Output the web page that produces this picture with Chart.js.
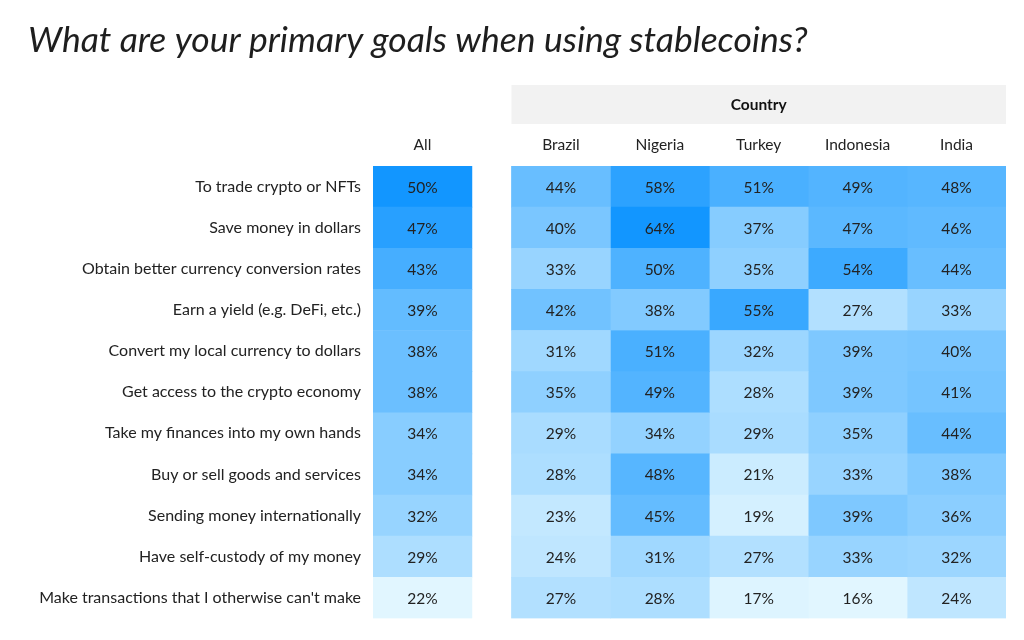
<!DOCTYPE html>
<html><head><meta charset="utf-8">
<script src="https://cdn.jsdelivr.net/npm/chart.js@4/dist/chart.umd.min.js"></script>
<style>html,body{margin:0;padding:0;background:#fff}#wrap{width:1024px;height:640px}</style>
</head><body><div id="wrap"><canvas id="c" width="1024" height="640"></canvas></div>
<script>
const goals = [
  'To trade crypto or NFTs',
  'Save money in dollars',
  'Obtain better currency conversion rates',
  'Earn a yield (e.g. DeFi, etc.)',
  'Convert my local currency to dollars',
  'Get access to the crypto economy',
  'Take my finances into my own hands',
  'Buy or sell goods and services',
  'Sending money internationally',
  'Have self-custody of my money',
  "Make transactions that I otherwise can't make"
];
const columnNames = ['All', 'Brazil', 'Nigeria', 'Turkey', 'Indonesia', 'India'];
const groupTitle = 'Country';
const allValues       = [50, 47, 43, 39, 38, 38, 34, 34, 32, 29, 22];
const brazilValues    = [44, 40, 33, 42, 31, 35, 29, 28, 23, 24, 27];
const nigeriaValues   = [58, 64, 50, 38, 51, 49, 34, 48, 45, 31, 28];
const turkeyValues    = [51, 37, 35, 55, 32, 28, 29, 21, 19, 27, 17];
const indonesiaValues = [49, 47, 54, 27, 39, 39, 35, 33, 39, 33, 16];
const indiaValues     = [48, 46, 44, 33, 40, 41, 44, 38, 36, 32, 24];

const seriesValues = [allValues, brazilValues, nigeriaValues, turkeyValues, indonesiaValues, indiaValues];
const GAP = 0.4; // gap between "All" column and the country block (in column units)
const LOW = [225, 246, 255], HIGH = [18, 150, 255];

function scaleColor(v, min, max) {
  const t = (v - min) / (max - min);
  const c = LOW.map((l, i) => Math.round(l + (HIGH[i] - l) * t));
  return `rgb(${c[0]},${c[1]},${c[2]})`;
}
const countryAll = seriesValues.slice(1).flat();
const cMin = Math.min(...countryAll), cMax = Math.max(...countryAll);
const aMin = Math.min(...allValues), aMax = Math.max(...allValues);

const colStart = i => i === 0 ? 0 : 1 + GAP + (i - 1);

const datasets = seriesValues.map((vals, i) => ({
  label: columnNames[i],
  values: vals,
  data: vals.map(() => [colStart(i), colStart(i) + 1]),
  backgroundColor: vals.map(v => i === 0 ? scaleColor(v, aMin, aMax) : scaleColor(v, cMin, cMax)),
  borderWidth: 0,
  grouped: false,
  barPercentage: 1,
  categoryPercentage: 1
}));

const FONT = 'Lato, "Open Sans", sans-serif';
const tablePlugin = {
  id: 'tableText',
  beforeDatasetsDraw(chart) {
    const ctx = chart.ctx, xs = chart.scales.x, top = chart.chartArea.top;
    const x0 = xs.getPixelForValue(colStart(1));
    const x1 = xs.getPixelForValue(colStart(columnNames.length - 1) + 1);
    ctx.save();
    ctx.fillStyle = '#f2f2f2';
    ctx.fillRect(x0, top - 81, x1 - x0, 39);
    ctx.restore();
  },
  afterDatasetsDraw(chart) {
    const ctx = chart.ctx, xs = chart.scales.x, top = chart.chartArea.top;
    ctx.save();
    ctx.textAlign = 'center';
    ctx.textBaseline = 'middle';
    ctx.fillStyle = '#222';
    ctx.font = '15.5px ' + FONT;
    chart.data.datasets.forEach((ds, di) => {
      chart.getDatasetMeta(di).data.forEach((bar, ri) => {
        const p = bar.getCenterPoint();
        ctx.fillText(ds.values[ri] + '%', p.x, p.y + 1);
      });
    });
    columnNames.forEach((n, i) => {
      ctx.fillText(n, xs.getPixelForValue(colStart(i) + 0.5), top - 21);
    });
    const x0 = xs.getPixelForValue(colStart(1));
    const x1 = xs.getPixelForValue(colStart(columnNames.length - 1) + 1);
    ctx.font = 'bold 15.5px ' + FONT;
    ctx.fillStyle = '#111';
    ctx.fillText(groupTitle, (x0 + x1) / 2, top - 61);
    ctx.restore();
  }
};

new Chart(document.getElementById('c'), {
  type: 'bar',
  data: { labels: goals, datasets },
  options: {
    indexAxis: 'y',
    responsive: false,
    animation: false,
    devicePixelRatio: 1,
    layout: { padding: { left: 28, right: 18, top: 0, bottom: 19 } },
    scales: {
      x: { display: false, min: 0, max: 1 + GAP + (columnNames.length - 1) },
      y: {
        grid: { display: false, drawTicks: false },
        border: { display: false },
        ticks: { color: '#222', font: { family: FONT, size: 16 }, padding: 12 },
        afterFit(s) { s.width = 345; }
      }
    },
    plugins: {
      legend: { display: false },
      tooltip: { enabled: false },
      title: {
        display: true,
        text: 'What are your primary goals when using stablecoins?',
        align: 'start',
        color: '#1e1e1e',
        font: { family: FONT, size: 35.5, style: 'italic', weight: 'normal', lineHeight: 1.2 },
        padding: { top: 19, bottom: 104.4 }
      }
    }
  },
  plugins: [tablePlugin]
});
</script>
</body></html>
